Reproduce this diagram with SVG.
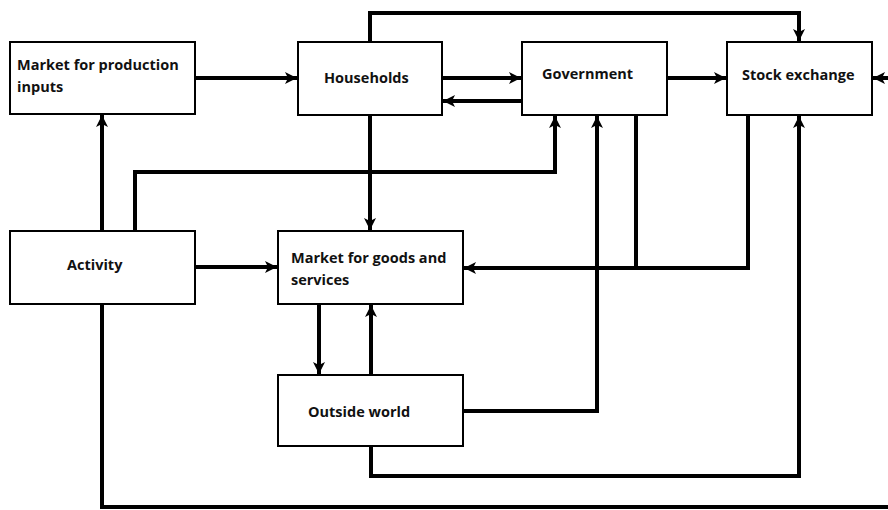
<svg xmlns="http://www.w3.org/2000/svg" width="888" height="510" viewBox="0 0 888 510">
<style>
.box{fill:#fff;stroke:#000;stroke-width:2}
.c{fill:none;stroke:#000;stroke-width:4}
.a{marker-end:url(#ah)}
text{font-family:"Open Sans","Liberation Sans",sans-serif;font-weight:bold;font-size:14.5px;fill:#111}
</style>
<defs>
<marker id="ah" markerUnits="userSpaceOnUse" markerWidth="14" markerHeight="14" viewBox="0 0 14 14" refX="13" refY="7" orient="auto">
<path d="M1,1 L13,7 L1,13 L4,7 Z" fill="#000"/>
</marker>
</defs>
<g id="connectors">
<path class="c a" d="M195,78 H297"/>
<path class="c a" d="M370,42 V13 H799 V41"/>
<path class="c a" d="M442,78 H521"/>
<path class="c a" d="M522,101 H443"/>
<path class="c a" d="M667,78 H726"/>
<path class="c a" d="M888,78 H873"/>
<path class="c a" d="M102,231 V115"/>
<path class="c a" d="M135,231 V172 H555 V116"/>
<path class="c a" d="M370,115 V230"/>
<path class="c a" d="M195,267 H277"/>
<path class="c a" d="M748,115 V268 H464"/>
<path class="c" d="M636,115 V268"/>
<path class="c a" d="M463,411 H597 V116"/>
<path class="c a" d="M371,446 V476 H799 V116"/>
<path class="c a" d="M319,304 V374"/>
<path class="c a" d="M371,375 V305"/>
<path class="c" d="M102,304 V507 H888"/>
</g>
<g id="mpi"><rect class="box" x="10" y="42" width="185" height="72"/><text x="17" y="70">Market for production</text><text x="17" y="92">inputs</text></g>
<g id="households"><rect class="box" x="298" y="42" width="144" height="73"/><text x="324" y="83">Households</text></g>
<g id="government"><rect class="box" x="522" y="42" width="145" height="73"/><text x="542" y="79">Government</text></g>
<g id="stock"><rect class="box" x="727" y="42" width="145" height="73"/><text x="742" y="80">Stock exchange</text></g>
<g id="activity"><rect class="box" x="10" y="231" width="185" height="73"/><text x="67" y="270">Activity</text></g>
<g id="goods"><rect class="box" x="278" y="231" width="185" height="73"/><text x="291" y="263">Market for goods and</text><text x="291" y="285">services</text></g>
<g id="outside"><rect class="box" x="278" y="375" width="185" height="71"/><text x="308" y="417">Outside world</text></g>
</svg>
